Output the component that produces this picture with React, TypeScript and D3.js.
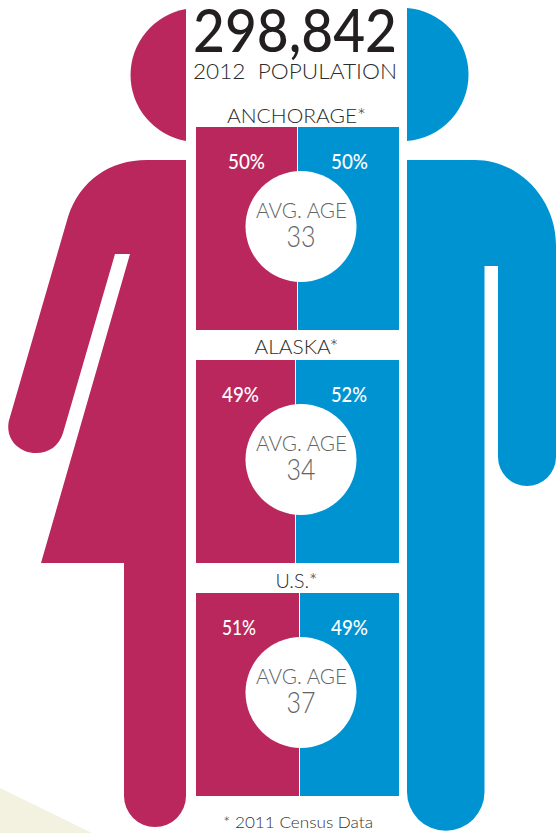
import React from "react";
import * as d3 from "d3";

const regions = ["ANCHORAGE*", "ALASKA*", "U.S.*"];
const femaleShare = [50, 49, 51];
const maleLabels = [50, 52, 49];
const avgAges = [33, 34, 37];
const headline = "298,842";
const subhead = "2012\u00A0\u00A0POPULATION";
const footnote = "* 2011 Census Data";

const PINK = "#b9275c";
const BLUE = "#0093d2";
const CREAM = "#f3f1e0";
const FONT = "'Lato', 'Open Sans', sans-serif";

const W = 556;
const H = 833;
const panelTop = [127, 360, 593];
const panelH = 203;
const titleW = [139, 84, 42];
const titleGap = [4, 6, 5];
const pinkLabelX = [[228, 265], [222, 259], [222, 256]];
const blueLabelX = [[331, 368], [331, 367], [331, 368]];
const share = d3.scaleLinear().domain([0, 100]).range([196, 399]);

function pinkBody(): string {
  const p = d3.path();
  p.moveTo(186, 160);
  p.lineTo(147, 160);
  p.bezierCurveTo(110, 160, 80, 180, 68, 217);
  p.lineTo(10, 417);
  p.bezierCurveTo(3, 437, 18, 453, 36, 453);
  p.bezierCurveTo(49, 453, 59, 446, 63, 433);
  p.lineTo(115, 254);
  p.lineTo(130, 254);
  p.lineTo(41, 563);
  p.lineTo(124, 563);
  p.lineTo(124, 796);
  p.arc(155, 796, 31, Math.PI, 0, true);
  p.closePath();
  return p.toString();
}

function blueBody(): string {
  const p = d3.path();
  p.moveTo(407, 160);
  p.lineTo(475, 160);
  p.bezierCurveTo(520, 160, 556, 200, 556, 245);
  p.lineTo(556, 457);
  p.arc(527, 457, 29, 0, Math.PI, false);
  p.lineTo(498, 266);
  p.lineTo(484.5, 266);
  p.lineTo(484.5, 792);
  p.arc(445.75, 792, 38.75, 0, Math.PI, false);
  p.closePath();
  return p.toString();
}

function fitted(x1: number, x2: number) {
  return { x: x1, textLength: x2 - x1, lengthAdjust: "spacingAndGlyphs" as const };
}

export default function App() {
  return (
    <svg
      width={W}
      height={H}
      viewBox={`0 0 ${W} ${H}`}
      style={{ position: "absolute", left: 0, top: 0, fontFamily: FONT, background: "#fff" }}
    >
      <polygon points="0,788 92,833 0,833" fill={CREAM} />

      <path d="M186,9 A67,67 0 0 0 186,141 Z" fill={PINK} />
      <path d="M407,8 A66.7,66.7 0 0 1 407,141 Z" fill={BLUE} />
      <path d={pinkBody()} fill={PINK} />
      <path d={blueBody()} fill={BLUE} />

      <text {...fitted(193, 397)} y={52} fontSize={60} fontWeight={500} fill="#231f20">{headline}</text>
      <text {...fitted(193, 397)} y={79} fontSize={22} fontWeight={300} fill="#2b2b2b">{subhead}</text>

      {regions.map((r, i) => {
        const top = panelTop[i];
        const split = share(femaleShare[i]);
        const cy = top + 99.5;
        const tw = titleW[i];
        const tx = 296.5 - tw / 2;
        return (
          <g key={r}>
            <text {...fitted(tx, tx + tw)} y={top - titleGap[i]} fontSize={20} fontWeight={300} fill="#2b2b2b">{r}</text>
            <rect x={share(0)} y={top} width={split - share(0)} height={panelH} fill={PINK} />
            <rect x={split} y={top} width={share(100) - split} height={panelH} fill={BLUE} />
            <line x1={split} x2={split} y1={top} y2={top + panelH} stroke="#fff" strokeWidth={1} />
            <circle cx={301} cy={cy} r={55.5} fill="#fff" />
            <text {...fitted(pinkLabelX[i][0], pinkLabelX[i][1])} y={top + 41.5} fontSize={21} fontWeight={500} fill="#fff">
              {femaleShare[i]}%
            </text>
            <text {...fitted(blueLabelX[i][0], blueLabelX[i][1])} y={top + 41.5} fontSize={21} fontWeight={500} fill="#fff">
              {maleLabels[i]}%
            </text>
            <text {...fitted(256, 347)} y={cy - 8.5} fontSize={21} fontWeight={300} fill="#636466">AVG. AGE</text>
            <text {...fitted(286.5, 315.5)} y={cy + 20.5} fontSize={30} fontWeight={300} fill="#636466">{avgAges[i]}</text>
          </g>
        );
      })}

      <text {...fitted(223, 373)} y={828} fontSize={16.5} fontWeight={300} fill="#333">{footnote}</text>
    </svg>
  );
}
